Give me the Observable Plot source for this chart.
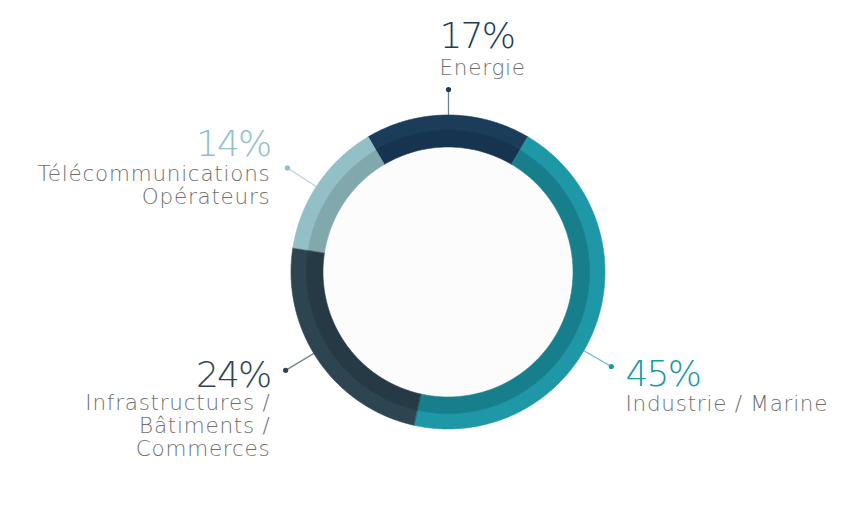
<!DOCTYPE html>
<html><head><meta charset="utf-8">
<script src="https://cdn.jsdelivr.net/npm/d3@7"></script>
<script src="https://cdn.jsdelivr.net/npm/@observablehq/plot@0.6"></script>
<style>
body{margin:0;background:#fff}
.names text{letter-spacing:0.75px}
.pcts text{letter-spacing:-1.8px}
</style>
</head><body><div id="chart"></div>
<script>
const categories = ["Energie", "Industrie / Marine", "Infrastructures /\nBâtiments /\nCommerces", "Télécommunications\nOpérateurs"];
const shares = [17, 45, 24, 14];
const percentLabels = ["17%", "45%", "24%", "14%"];
const outerColors = ["#1b3d5a", "#1e97a7", "#2d4550", "#93c0c6"];
const innerColors = ["#163350", "#177f8c", "#263a45", "#80a8ad"];

// layout (pixels relative to the ring centre)
const W = 865, H = 518, cx = 448, cy = 272;
const R0 = 125, R1 = 141, R2 = 157;
const labelLayout = [
  {angle: 0,   rDot: 183, tx: -9,   anchor: "start", pctY: -225, nameY: -198},
  {angle: 120, rDot: 188, tx: 177,  anchor: "start", pctY: 113,  nameY: 138},
  {angle: 239, rDot: 190, tx: -178, anchor: "end",   pctY: 114,  nameY: 183},
  {angle: 303, rDot: 192, tx: -178, anchor: "end",   pctY: -117, nameY: -69}
];

const total = d3.sum(shares);
let acc = -shares[0] / total * Math.PI;
const slices = shares.map((v, i) => { const a0 = acc; acc += v / total * 2 * Math.PI; return {i, a0, a1: acc}; });

function ring(rIn, rOut, colors) {
  const pts = [];
  for (const s of slices) {
    const n = Math.max(2, Math.ceil((s.a1 - s.a0) / (Math.PI / 360)));
    for (let k = 0; k <= n; k++) {
      const a = s.a0 + (s.a1 - s.a0) * k / n;
      pts.push({i: s.i, c: colors[s.i],
        x1: rOut * Math.sin(a), y1: -rOut * Math.cos(a),
        x2: rIn * Math.sin(a), y2: -rIn * Math.cos(a)});
    }
  }
  return pts;
}
const outerRing = ring(R1, R2, outerColors);
const innerRing = ring(R0, R1 + 0.5, innerColors);

const leaders = shares.map((v, i) => {
  const L = labelLayout[i], a = L.angle * Math.PI / 180;
  return {i, c: outerColors[i],
    xa: (R2 - 1) * Math.sin(a), ya: -(R2 - 1) * Math.cos(a),
    xb: L.rDot * Math.sin(a), yb: -L.rDot * Math.cos(a)};
});
const labels = shares.map((v, i) => ({
  i, pct: percentLabels[i], name: categories[i], c: outerColors[i],
  x: labelLayout[i].tx, pctY: labelLayout[i].pctY, nameY: labelLayout[i].nameY, anchor: labelLayout[i].anchor
}));
const font = "'DejaVu Sans', sans-serif";

const chart = Plot.plot({
  width: W, height: H, margin: 0,
  x: {domain: [-cx, W - cx], axis: null},
  y: {domain: [-cy, H - cy], reverse: true, axis: null},
  color: {type: "identity"},
  style: {background: "#ffffff", fontFamily: font},
  marks: [
    Plot.dot([{x: 0, y: 0}], {x: "x", y: "y", r: R0 + 1, fill: "#fcfcfc", stroke: "none"}),
    Plot.area(outerRing, {x1: "x1", y1: "y1", x2: "x2", y2: "y2", z: "i", fill: "c", stroke: "c", strokeWidth: 0.6, curve: "linear"}),
    Plot.area(innerRing, {x1: "x1", y1: "y1", x2: "x2", y2: "y2", z: "i", fill: "c", stroke: "c", strokeWidth: 0.6, curve: "linear"}),
    Plot.link(leaders, {x1: "xa", y1: "ya", x2: "xb", y2: "yb", stroke: "c", strokeOpacity: 0.65, strokeWidth: 1.3}),
    Plot.dot(leaders, {x: "xb", y: "yb", r: 2.6, fill: "c", stroke: "none"}),
    ...labels.map(d => Plot.text([d], {x: "x", y: "pctY", text: "pct", fill: "c", fontSize: 36, fontWeight: 200, textAnchor: d.anchor, lineAnchor: "bottom", className: "pcts"})),
    ...labels.map(d => Plot.text([d], {x: "x", y: "nameY", text: "name", fill: "#6f6f6f", fontSize: 21.5, fontWeight: 200, textAnchor: d.anchor, lineAnchor: "bottom", lineHeight: 1.05, className: "names"}))
  ]
});
document.getElementById("chart").appendChild(chart);
</script>
</body></html>
